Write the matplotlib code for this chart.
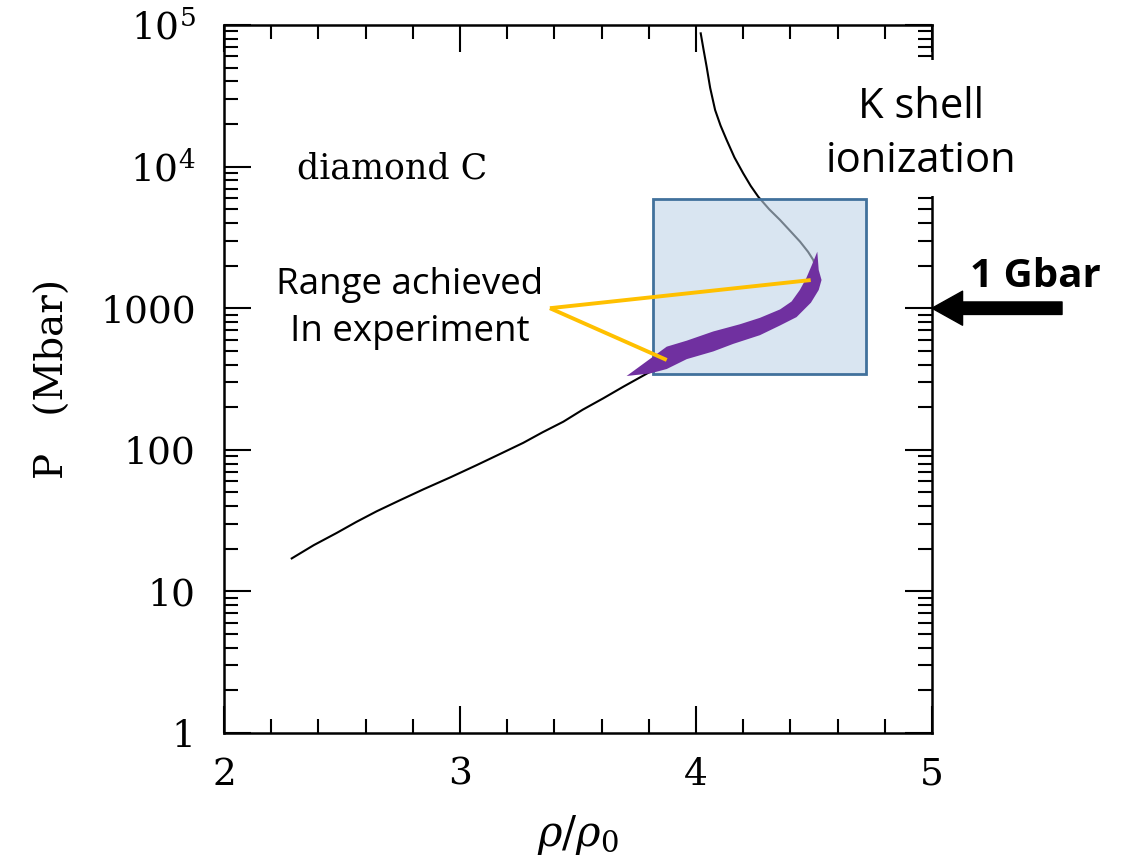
import numpy as np
import matplotlib
matplotlib.use('Agg')
import matplotlib.pyplot as plt
from matplotlib.patches import Rectangle
from matplotlib.ticker import FixedLocator, FixedFormatter, MultipleLocator, LogLocator, NullFormatter

plt.rcParams['mathtext.fontset'] = 'dejavuserif'

# diamond C hugoniot, rho/rho0 vs P (Mbar)
hug_x = [2.287, 2.38, 2.478, 2.56, 2.647, 2.745, 2.845, 2.96, 3.071, 3.17, 3.268,
         3.35, 3.438, 3.52, 3.607, 3.692, 3.819,
         3.95, 4.10, 4.30, 4.43, 4.50, 4.514, 4.497, 4.475, 4.441, 4.40, 4.356,
         4.310, 4.264, 4.232, 4.200, 4.163, 4.130, 4.104, 4.081, 4.060, 4.045,
         4.032, 4.020]
hug_p = [17.1, 21.2, 25.9, 30.9, 36.8, 44.0, 52.6, 64.0, 78.0, 93.5, 112,
         133, 158, 192, 231, 279, 366,
         510, 620, 800, 1150, 1600, 1760, 2190, 2500, 2950, 3500, 4200,
         5000, 6120, 7300, 8970, 11600, 15400, 19500, 25100, 36000, 50800,
         67000, 87300]

# experimental band (upper edge then lower edge back)
band_up_x = [3.706, 3.876, 3.961, 4.073, 4.186, 4.271, 4.356, 4.405, 4.440, 4.467, 4.491, 4.514]
band_up_p = [332, 535, 590, 685, 770, 855, 980, 1115, 1345, 1626, 2018, 2506]
band_lo_x = [4.520, 4.532, 4.520, 4.487, 4.426, 4.356, 4.271, 4.158, 4.073, 3.961, 3.876, 3.805]
band_lo_p = [1862, 1582, 1345, 1094, 865, 755, 645, 560, 495, 437, 372, 346]

# highlighted region
box_x = [3.817, 4.720]
box_p = [343, 5900]

# pointer lines from the label to the band
ptr_from = (3.381, 1000)
ptr_to_x = [4.486, 3.876]
ptr_to_p = [1580, 431]

ytick_vals = [1, 10, 100, 1000, 1e4, 1e5]
ytick_labels = ['1', '10', '100', '1000', r'$10^4$', r'$10^5$']
xtick_vals = [2, 3, 4, 5]

fig = plt.figure(figsize=(11.27, 8.6), dpi=100)
ax = fig.add_axes([0.19876, 0.14767, 0.62821, 0.82326])
ax.set_yscale('log')
ax.set_xlim(2, 5)
ax.set_ylim(1, 1e5)

ax.plot(hug_x, hug_p, color='black', lw=1.5, zorder=2)

ax.add_patch(Rectangle((box_x[0], box_p[0]), box_x[1] - box_x[0], box_p[1] - box_p[0],
                       facecolor=(193/255, 213/255, 233/255, 0.6), edgecolor='#41719C',
                       lw=2, zorder=3))

ax.fill(band_up_x + band_lo_x, band_up_p + band_lo_p, color='#7030A0', lw=0, zorder=4)

for tx, tp in zip(ptr_to_x, ptr_to_p):
    ax.plot([ptr_from[0], tx], [ptr_from[1], tp], color='#FFC000', lw=2.8,
            solid_capstyle='butt', zorder=5)

ax.xaxis.set_major_locator(FixedLocator(xtick_vals))
ax.xaxis.set_minor_locator(MultipleLocator(0.2))
ax.yaxis.set_major_locator(FixedLocator(ytick_vals))
ax.yaxis.set_major_formatter(FixedFormatter(ytick_labels))
ax.yaxis.set_minor_locator(LogLocator(base=10, subs=np.arange(2, 10)))
ax.yaxis.set_minor_formatter(NullFormatter())
ax.tick_params(which='both', direction='in', top=True, right=True, width=1.5,
               labelsize=27, labelfontfamily='DejaVu Serif')
ax.tick_params(which='major', length=19.5)
ax.tick_params(axis='x', which='major', pad=17)
ax.tick_params(axis='y', which='major', pad=20.5)
ax.tick_params(which='minor', length=10)
for s in ax.spines.values():
    s.set_linewidth(1.8)

ax.set_xlabel(r'$\rho/\rho_0$', fontsize=30, labelpad=15)
ax.set_ylabel('P   (Mbar)', fontsize=28, family='DejaVu Serif', labelpad=20)

ax.text(2.308, 8300, 'diamond C', fontsize=25, family='DejaVu Serif', zorder=6)

sans = 'Open Sans'
ax.text(2.788, 1000, 'Range achieved\nIn experiment', fontsize=26.5, family=sans,
        ha='center', va='center', linespacing=1.4, zorder=6)

# white backing under the K-shell label, it blanks part of the right frame
fig.add_artist(Rectangle((818/1127, 1 - 196/860), 210/1127, 136/860,
                         transform=fig.transFigure, facecolor='white',
                         edgecolor='none', zorder=2))
fig.text(921/1127, 1 - 134/860, 'K shell\nionization', fontsize=30, family=sans,
         ha='center', va='center', linespacing=1.38, zorder=3)

fig.text(970/1127, 1 - 286.7/860, '1 Gbar', fontsize=29, family=sans,
         fontweight='bold', ha='left', va='baseline')

ax.annotate('', xy=(5, 1000), xytext=(5.551, 1000), annotation_clip=False,
            arrowprops=dict(arrowstyle='simple,head_length=22,head_width=24.5,tail_width=9',
                            mutation_scale=1, color='black', shrinkA=0, shrinkB=0))

fig.savefig('out.png', dpi=100)
